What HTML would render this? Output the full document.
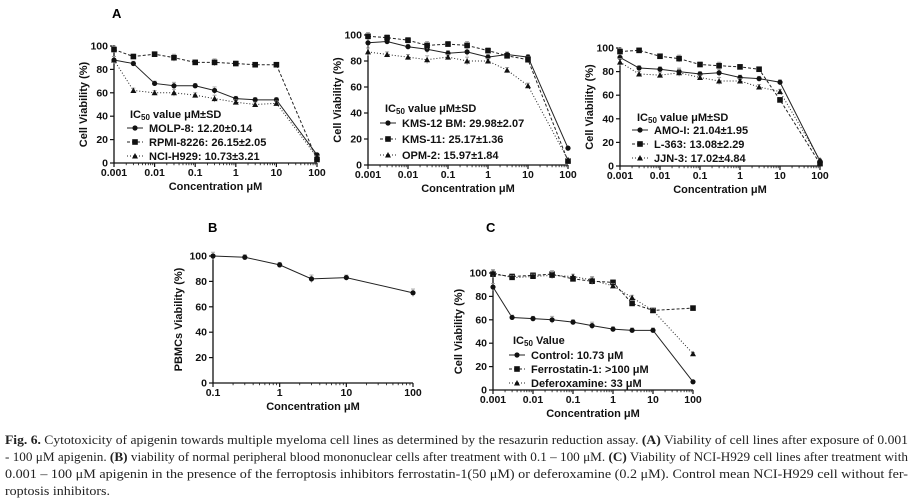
<!DOCTYPE html>
<html><head><meta charset="utf-8">
<style>
html,body{margin:0;padding:0;background:#fff;}
svg{display:block;font-family:"Liberation Sans",Arial,sans-serif;}
.cap{font-family:"Liberation Serif",serif;font-size:12.5px;fill:#222;}
</style></head>
<body>
<svg id="fig" width="914" height="502" viewBox="0 0 914 502" xmlns="http://www.w3.org/2000/svg">
<text x="112" y="18" font-size="13" font-weight="bold">A</text>
<text x="208" y="232" font-size="13" font-weight="bold">B</text>
<text x="486" y="232" font-size="13" font-weight="bold">C</text>
<g>
<text class="cap" x="5" y="444" textLength="903" lengthAdjust="spacingAndGlyphs"><tspan font-weight="bold">Fig. 6.</tspan>  Cytotoxicity of apigenin towards multiple myeloma cell lines as determined by the resazurin reduction assay. <tspan font-weight="bold">(A)</tspan> Viability of cell lines after exposure of 0.001</text>
<text class="cap" x="5" y="461" textLength="903" lengthAdjust="spacingAndGlyphs">- 100 μM apigenin. <tspan font-weight="bold">(B)</tspan> viability of normal peripheral blood mononuclear cells after treatment with 0.1 – 100 μM. <tspan font-weight="bold">(C)</tspan> Viability of NCI-H929 cell lines after treatment with</text>
<text class="cap" x="5" y="478" textLength="903" lengthAdjust="spacingAndGlyphs">0.001 – 100 μM apigenin in the presence of the ferroptosis inhibitors ferrostatin-1(50 μM) or deferoxamine (0.2 μM). Control mean NCI-H929 cell without fer-</text>
<text class="cap" x="5" y="495" textLength="105" lengthAdjust="spacingAndGlyphs">roptosis inhibitors.</text>
</g>
</svg>
<script>
// Shared concentration categories
const concA = [0.001,0.003,0.01,0.03,0.1,0.3,1,3,10,100];
const concB = [0.1,0.3,1,3,10,100];
// Panel A1
const molp8 = [88,85,68,66,66,62,55,54,54,7];
const rpmi8226 = [97,91,93,90,86,86,85,84,84,3];
const nciH929 = [88,62,60,60,58,55,52,50,51,5];
// Panel A2
const kms12bm = [94,95,91,89,86,87,83,85,83,13];
const kms11 = [99,98,96,92,93,92,88,84,81,3];
const opm2 = [87,85,83,81,83,80,80,73,61,4];
// Panel A3
const amoI = [92,83,82,80,78,79,75,74,71,4];
const l363 = [97,98,93,91,86,85,84,82,56,2];
const jjn3 = [88,78,77,79,75,72,72,67,63,5];
// Panel B
const pbmc = [100,99,93,82,83,71];
// Panel C
const control = [88,62,61,60,58,55,52,51,51,7];
const ferrostatin = [99,97,98,99,95,93,92,74,68,70];
const deferoxamine = [100,96,97,98,97,94,89,79,68,31];
// Error (SD) values
const sdSmall = [3,2,2,3,2,3,2,2,2,1];
// Tick labels
const xTicksA = ["0.001","0.01","0.1","1","10","100"];
const xTicksB = ["0.1","1","10","100"];
const yTicks = [0,20,40,60,80,100];

const NS="http://www.w3.org/2000/svg";
const svg=document.getElementById('fig');
function mk(tag,attrs,parent){const e=document.createElementNS(NS,tag);for(const k in attrs)e.setAttribute(k,attrs[k]);(parent||svg).appendChild(e);return e;}
const dashes=["none","3,2","1,2"];

function marker(g,type,x,y){
  let m;
  if(type===0){m=mk('circle',{cx:x,cy:y,r:2.6,fill:'#111'},g);}
  else if(type===1){m=mk('rect',{x:x-2.8,y:y-2.8,width:5.6,height:5.6,fill:'#111'},g);}
  else {m=mk('polygon',{points:`${x},${y-3} ${x-3},${y+2.5} ${x+3},${y+2.5}`,fill:'#111'},g);}
  
  
}

function panel(p){
  const g=mk('g',{});
  
  
  const lmin=Math.log10(p.xmin), lmax=Math.log10(p.xmax);
  const sx=v=>p.x0+(Math.log10(v)-lmin)/(lmax-lmin)*(p.x1-p.x0);
  const sy=v=>p.y0-(v/100)*(p.y0-p.y1);
  // axes
  const ya=mk('line',{x1:p.x0,y1:p.y0,x2:p.x0,y2:p.y1-1,stroke:'#111','stroke-width':1.3},g);
  
  const xa=mk('line',{x1:p.x0,y1:p.y0,x2:p.x1,y2:p.y0,stroke:'#111','stroke-width':1.3},g);
  
  yTicks.forEach(t=>{
    const y=sy(t);
    mk('line',{x1:p.x0-4,y1:y,x2:p.x0,y2:y,stroke:'#111','stroke-width':1.2},g);
    const tx=mk('text',{x:p.x0-6,y:y+3.5,'font-size':10.5,'font-weight':'bold','text-anchor':'end',fill:'#111'},g);
    tx.textContent=t;
    
  });
  p.xticks.forEach(t=>{
    const v=parseFloat(t), x=sx(v);
    mk('line',{x1:x,y1:p.y0,x2:x,y2:p.y0+4,stroke:'#111','stroke-width':1.2},g);
    if(v<p.xmax){for(let k=2;k<10;k++){const xm=sx(v*k);mk('line',{x1:xm,y1:p.y0,x2:xm,y2:p.y0+2.2,stroke:'#111','stroke-width':0.8},g);}}
    const tx=mk('text',{x:x,y:p.y0+13,'font-size':10.5,'font-weight':'bold','text-anchor':'middle',fill:'#111'},g);
    tx.textContent=t;
    
  });
  const xt=mk('text',{x:(p.x0+p.x1)/2,y:p.y0+27,'font-size':11,'font-weight':'bold','text-anchor':'middle',fill:'#111'},g);
  xt.textContent='Concentration μM';
  
  const yc=(p.y0+p.y1)/2, yx=p.x0-p.ytoff;
  const yt=mk('text',{x:yx,y:yc,'font-size':11,'font-weight':'bold','text-anchor':'middle',fill:'#111',transform:`rotate(-90 ${yx} ${yc})`},g);
  yt.textContent=p.ytitle;
  
  // series
  p.series.forEach((s,i)=>{
    const pts=s.vals.map((v,j)=>[sx(p.conc[j]),sy(v)]);
    const ln=mk('polyline',{points:pts.map(q=>q.join(',')).join(' '),fill:'none',stroke:'#222','stroke-width':1,'stroke-dasharray':dashes[i]},g);
    
    s.vals.forEach((v,j)=>{
      const x=pts[j][0], e=sdSmall[j%sdSmall.length]*(p.y0-p.y1)/100;
      mk('line',{x1:x,y1:pts[j][1]-e,x2:x,y2:pts[j][1]+e,stroke:'#999','stroke-width':0.8},g);
      mk('line',{x1:x-2,y1:pts[j][1]-e,x2:x+2,y2:pts[j][1]-e,stroke:'#999','stroke-width':0.8},g);
      marker(g,s.m!==undefined?s.m:i,x,pts[j][1]);
    });
  });
  // legend
  if(p.legend){
    const L=p.legend;
    const t=mk('text',{x:L.x,y:L.ty,'font-size':11,'font-weight':'bold',fill:'#111'},g);
    t.innerHTML=L.title;
    
    p.series.forEach((s,i)=>{
      const y=L.y[i];
      const lg=mk('g',{},g);
      
      
      mk('line',{x1:L.lx,y1:y-4,x2:L.lx+16,y2:y-4,stroke:'#222','stroke-width':1,'stroke-dasharray':dashes[i]},lg);
      marker(lg,i,L.lx+8,y-4);
      const tt=mk('text',{x:L.lx+22,y:y,'font-size':11,'font-weight':'bold',fill:'#111'},lg);
      tt.textContent=s.label;
    });
  }
}
const ic='IC<tspan font-size="8" dy="2">50</tspan><tspan dy="-2"> value μM±SD</tspan>';
panel({name:'chart-a1',x0:114,x1:317,y0:163,y1:46,xmin:0.001,xmax:100,conc:concA,xticks:xTicksA,ytitle:'Cell  Viability (%)',ytoff:27,
 series:[{vals:molp8,label:'MOLP-8: 12.20±0.14'},{vals:rpmi8226,label:'RPMI-8226: 26.15±2.05'},{vals:nciH929,label:'NCI-H929: 10.73±3.21'}],
 legend:{x:130,ty:118,lx:127,y:[132,146,160],title:ic}});
panel({name:'chart-a2',x0:368,x1:568,y0:165,y1:35,xmin:0.001,xmax:100,conc:concA,xticks:xTicksA,ytitle:'Cell  Viability (%)',ytoff:27,
 series:[{vals:kms12bm,label:'KMS-12 BM: 29.98±2.07'},{vals:kms11,label:'KMS-11: 25.17±1.36'},{vals:opm2,label:'OPM-2: 15.97±1.84'}],
 legend:{x:385,ty:112,lx:380,y:[127,143,159],title:ic}});
panel({name:'chart-a3',x0:620,x1:820,y0:166,y1:48,xmin:0.001,xmax:100,conc:concA,xticks:xTicksA,ytitle:'Cell  Viability (%)',ytoff:27,
 series:[{vals:amoI,label:'AMO-I: 21.04±1.95'},{vals:l363,label:'L-363: 13.08±2.29'},{vals:jjn3,label:'JJN-3: 17.02±4.84'}],
 legend:{x:637,ty:121,lx:632,y:[134,148,162],title:ic}});
panel({name:'chart-b',x0:213,x1:413,y0:383,y1:256,xmin:0.1,xmax:100,conc:concB,xticks:xTicksB,ytitle:'PBMCs Viability (%)',ytoff:31,
 series:[{vals:pbmc,label:'PBMCs',m:0}]});
panel({name:'chart-c',x0:493,x1:693,y0:390,y1:273,xmin:0.001,xmax:100,conc:concA,xticks:xTicksA,ytitle:'Cell  Viability (%)',ytoff:31,
 series:[{vals:control,label:'Control: 10.73 μM'},{vals:ferrostatin,label:'Ferrostatin-1: >100 μM'},{vals:deferoxamine,label:'Deferoxamine: 33 μM'}],
 legend:{x:513,ty:344,lx:509,y:[359,373,387],title:'IC<tspan font-size="8" dy="2">50</tspan><tspan dy="-2"> Value</tspan>'}});
</script>
</body></html>
